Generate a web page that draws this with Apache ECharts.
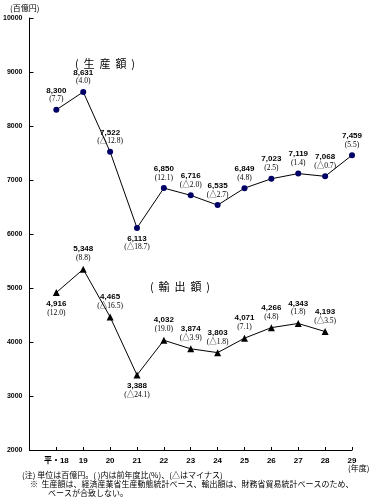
<!DOCTYPE html>
<html><head><meta charset="utf-8">
<script src="https://cdn.jsdelivr.net/npm/echarts@6/dist/echarts.min.js"></script>
<style>html,body{margin:0;padding:0;background:#fff}#c{width:372px;height:500px}</style>
</head><body><div id="c"></div>
<script>
const years = [18,19,20,21,22,23,24,25,26,27,28,29];
const production = [8300,8631,7522,6113,6850,6716,6535,6849,7023,7119,7068,7459];
const prodChg = ['7.7','4.0','△12.8','△18.7','12.1','△2.0','△2.7','4.8','2.5','1.4','△0.7','5.5'];
const prodPos = ['top','top','top','bottom','top','top','top','top','top','top','top','top'];
const exportYears = [18,19,20,21,22,23,24,25,26,27,28];
const exportVal = [4916,5348,4465,3388,4032,3874,3803,4071,4266,4343,4193];
const expChg = ['12.0','8.8','△16.5','△24.1','19.0','△3.9','△1.8','7.1','4.8','1.8','△3.5'];
const expPos = ['bottom','top','top','bottom','top','top','top','top','top','top','top'];
const yTicks = [2000,3000,4000,5000,6000,7000,8000,9000,10000];

function fmt(n){return n.toLocaleString('en-US');}
const rich = {
  a:{fontFamily:'Liberation Sans, Arial',fontSize:8,fontWeight:'bold',color:'#000',lineHeight:9},
  b:{fontFamily:'Liberation Serif, Noto Sans CJK JP',fontSize:7.5,color:'#000',lineHeight:9}
};
function pts(xs, ys, chg, pos){
  return xs.map((x,i)=>({value:[x,ys[i]],label:{show:true,position:pos[i],distance:3,
    formatter:'{a|'+fmt(ys[i])+'}\n{b|('+chg[i]+')}',rich:rich}}));
}
const chart = echarts.init(document.getElementById('c'),null,{renderer:'canvas'});
chart.setOption({
  animation:false,
  grid:{left:29,right:20,top:18,bottom:50,containLabel:false},
  xAxis:{type:'value',min:17,max:29,interval:1,
    axisLine:{lineStyle:{color:'#000',width:1}},
    axisTick:{inside:true,length:3,lineStyle:{color:'#000'}},
    splitLine:{show:false},
    axisLabel:{margin:7,fontSize:8,fontWeight:'bold',color:'#000',fontFamily:'Liberation Sans, Noto Sans CJK JP',
      formatter:v=>v===17?'':(v===18?'平・18':String(v))}},
  yAxis:{type:'value',min:yTicks[0],max:yTicks[yTicks.length-1],interval:1000,
    axisLine:{show:true,lineStyle:{color:'#000',width:1}},
    axisTick:{show:true,inside:true,length:4,lineStyle:{color:'#000'}},
    splitLine:{show:false},
    axisLabel:{margin:7,fontSize:7,fontWeight:'bold',color:'#000',fontFamily:'Liberation Sans',
      formatter:v=>String(v)}},
  series:[
    {type:'line',data:pts(years,production,prodChg,prodPos),symbol:'circle',symbolSize:6,
      itemStyle:{color:'#000066'},lineStyle:{color:'#000',width:1}},
    {type:'line',data:pts(exportYears,exportVal,expChg,expPos),symbol:'triangle',symbolSize:7,
      itemStyle:{color:'#000'},lineStyle:{color:'#000',width:1}}
  ],
  graphic:[
    {type:'text',left:10,top:4,style:{text:'(百億円)',fontSize:8,fontFamily:'Noto Sans CJK JP',fill:'#000'}},
    {type:'text',x:105,y:64,style:{text:'(  生  産  額  )',fontSize:11,fontFamily:'Noto Sans CJK JP',fill:'#000',align:'center',verticalAlign:'middle'}},
    {type:'text',x:180,y:287,style:{text:'(  輸  出  額  )',fontSize:11,fontFamily:'Noto Sans CJK JP',fill:'#000',align:'center',verticalAlign:'middle'}},
    {type:'text',x:348,y:464,style:{text:'(年度)',fontSize:8,fontFamily:'Noto Sans CJK JP',fill:'#000'}},
    {type:'text',x:22,y:471,style:{text:'(注) 単位は百億円。( )内は前年度比(%)、(△はマイナス)',fontSize:8,fontFamily:'Noto Sans CJK JP',fill:'#000'}},
    {type:'text',x:30,y:480,style:{text:'※  生産額は、経済産業省生産動態統計ベース、輸出額は、財務省貿易統計ベースのため、',fontSize:8,fontFamily:'Noto Sans CJK JP',fill:'#000'}},
    {type:'text',x:48,y:489,style:{text:'ベースが合致しない。',fontSize:8,fontFamily:'Noto Sans CJK JP',fill:'#000'}}
  ]
});
</script></body></html>
